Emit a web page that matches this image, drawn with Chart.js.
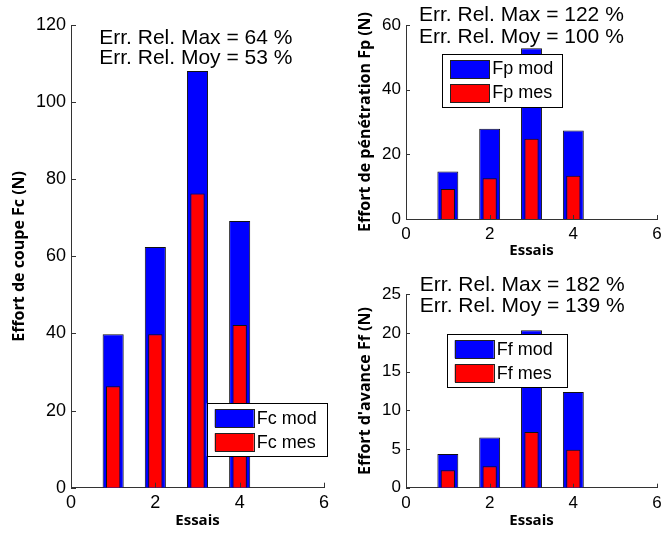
<!DOCTYPE html>
<html>
<head>
<meta charset="utf-8">
<script src="https://cdn.jsdelivr.net/npm/chart.js@4.4.1/dist/chart.umd.min.js"></script>
<style>
  html, body { margin: 0; padding: 0; background: #fff; }
  #fig { position: relative; width: 661px; height: 533px; overflow: hidden; }
  #fig canvas { position: absolute; }
</style>
</head>
<body>
<div id="fig">
  <canvas id="chart-fc" width="340" height="533" style="left:0;top:0"></canvas>
  <canvas id="chart-fp" width="321" height="260" style="left:340px;top:0"></canvas>
  <canvas id="chart-ff" width="321" height="273" style="left:340px;top:260px"></canvas>
</div>
<script>
// Data
const essais = [1, 2, 3, 4];
const xTicks = [0, 2, 4, 6];

const fcMod = [39.8, 62.4, 108.1, 69.2];
const fcMes = [26.3, 39.8, 76.3, 42.2];
const fcErr = ['Err. Rel. Max = 64 %', 'Err. Rel. Moy = 53 %'];

const fpMod = [14.7, 27.9, 52.8, 27.4];
const fpMes = [9.3, 12.6, 24.8, 13.4];
const fpErr = ['Err. Rel. Max = 122 %', 'Err. Rel. Moy = 100 %'];

const ffMod = [4.36, 6.5, 20.35, 12.37];
const ffMes = [2.25, 2.76, 7.2, 4.9];
const ffErr = ['Err. Rel. Max = 182 %', 'Err. Rel. Moy = 139 %'];

const tickFamily = '"Liberation Sans", Arial, sans-serif';
const titleFamily = '"Open Sans", "DejaVu Sans", sans-serif';
const axisColor = '#333';

// Matlab-like ticks pointing into the plot
const innerTicks = {
    id: 'innerTicks',
    afterDraw(chart, args, opts) {
        const ctx = chart.ctx;
        const { x, y } = chart.scales;
        const len = opts.length || 5;
        ctx.save();
        ctx.strokeStyle = axisColor;
        ctx.lineWidth = 1;
        ctx.beginPath();
        x.ticks.forEach(t => {
            const px = Math.round(x.getPixelForValue(t.value)) + 0.5;
            ctx.moveTo(px, y.bottom);
            ctx.lineTo(px, y.bottom - len);
        });
        y.ticks.forEach(t => {
            const py = Math.round(y.getPixelForValue(t.value)) + 0.5;
            ctx.moveTo(x.left, py);
            ctx.lineTo(x.left + len, py);
        });
        ctx.stroke();
        ctx.restore();
    }
};

// Error text, anchored in data coordinates
const errText = {
    id: 'errText',
    afterDraw(chart, args, opts) {
        if (!opts.lines) return;
        const ctx = chart.ctx;
        const px = chart.scales.x.getPixelForValue(opts.x);
        const py = chart.scales.y.getPixelForValue(opts.y);
        ctx.save();
        ctx.fillStyle = '#000';
        ctx.font = opts.size + 'px ' + tickFamily;
        ctx.textAlign = 'left';
        ctx.textBaseline = 'middle';
        opts.lines.forEach((line, i) => ctx.fillText(line, px, py + i * opts.dy));
        ctx.restore();
    }
};

// Boxed legend placed like the Matlab one
const boxLegend = {
    id: 'boxLegend',
    afterDraw(chart, args, opts) {
        const ctx = chart.ctx;
        const w = 120, h = 53;
        const left = opts.left, top = opts.top;
        ctx.save();
        ctx.fillStyle = '#fff';
        ctx.fillRect(left, top, w, h);
        ctx.strokeStyle = '#000';
        ctx.lineWidth = 1;
        ctx.strokeRect(Math.round(left) + 0.5, Math.round(top) + 0.5, w, h);
        ctx.font = '18px ' + tickFamily;
        ctx.textBaseline = 'middle';
        chart.data.datasets.forEach((ds, i) => {
            const sy = top + 6 + i * 24;
            ctx.fillStyle = ds.backgroundColor;
            ctx.fillRect(left + 8, sy, 39, 18);
            ctx.strokeStyle = '#222';
            ctx.strokeRect(Math.round(left + 8) + 0.5, Math.round(sy) + 0.5, 39, 18);
            ctx.fillStyle = '#000';
            ctx.fillText(ds.label, left + 50, sy + 9.5);
        });
        ctx.restore();
    }
};

function makeChart(canvasId, mod, mes, names, s) {
    const canvas = document.getElementById(canvasId);
    return new Chart(canvas, {
        type: 'bar',
        data: {
            datasets: [
                {
                    label: names[0],
                    data: essais.map((e, i) => ({ x: e, y: mod[i] })),
                    backgroundColor: '#0000ff',
                    borderColor: '#111',
                    borderWidth: 1,
                    barPercentage: 0.5,
                    categoryPercentage: 1,
                    grouped: false,
                    order: 1
                },
                {
                    label: names[1],
                    data: essais.map((e, i) => ({ x: e, y: mes[i] })),
                    backgroundColor: '#ff0000',
                    borderColor: '#111',
                    borderWidth: 1,
                    barPercentage: 0.34,
                    categoryPercentage: 1,
                    grouped: false,
                    order: 0
                }
            ]
        },
        options: {
            responsive: false,
            animation: false,
            layout: { padding: { left: 0, top: s.top, right: s.right, bottom: 0 } },
            scales: {
                x: {
                    type: 'linear',
                    offset: false,
                    min: 0,
                    max: 6,
                    afterBuildTicks: scale => { scale.ticks = xTicks.map(v => ({ value: v })); },
                    afterFit: scale => {
                        scale.height = s.xHeight;
                        scale.paddingLeft = 0;
                        scale.paddingRight = 0;
                    },
                    grid: { display: false, drawTicks: false },
                    border: { display: true, color: axisColor },
                    ticks: { color: '#000', padding: 5, maxRotation: 0, font: { family: tickFamily, size: s.tickSize } },
                    title: {
                        display: true,
                        text: 'Essais',
                        color: '#000',
                        padding: { top: 0, bottom: s.xTitlePad },
                        font: { family: titleFamily, size: 15, weight: 'bold' }
                    }
                },
                y: {
                    min: 0,
                    max: s.yMax,
                    ticks: { stepSize: s.yStep, color: '#000', padding: 5, font: { family: tickFamily, size: s.tickSize } },
                    afterFit: scale => {
                        scale.width = s.yWidth;
                        scale.paddingTop = 0;
                        scale.paddingBottom = 0;
                    },
                    grid: { display: false, drawTicks: false },
                    border: { display: true, color: axisColor },
                    title: {
                        display: true,
                        text: names[2],
                        color: '#000',
                        padding: { top: s.yTitlePad, bottom: 0 },
                        font: { family: titleFamily, size: 16, weight: 'bold' }
                    }
                }
            },
            plugins: {
                legend: { display: false },
                tooltip: { enabled: false },
                innerTicks: { length: s.tickLen },
                errText: { lines: s.err, x: s.textX, y: s.textY, dy: s.dy, size: 21 },
                boxLegend: { left: s.legLeft, top: s.legTop }
            }
        },
        plugins: [innerTicks, errText, boxLegend]
    });
}

makeChart('chart-fc', fcMod, fcMes, ['Fc mod', 'Fc mes', 'Effort de coupe Fc (N)'], {
    top: 25, right: 16, yWidth: 71, xHeight: 45.3, yMax: 120, yStep: 20,
    tickSize: 18, tickLen: 5, xTitlePad: 3, yTitlePad: 10,
    err: fcErr, textX: 0.67, textY: 116.6, dy: 20,
    legLeft: 206.7, legTop: 403.3
});

makeChart('chart-fp', fpMod, fpMes, ['Fp mod', 'Fp mes', 'Effort de pénétration Fp (N)'], {
    top: 25, right: 4, yWidth: 66, xHeight: 41, yMax: 60, yStep: 20,
    tickSize: 17, tickLen: 4, xTitlePad: 0, yTitlePad: 16,
    err: fpErr, textX: 0.31, textY: 63.1, dy: 22,
    legLeft: 102.3, legTop: 54
});

makeChart('chart-ff', ffMod, ffMes, ['Ff mod', 'Ff mes', "Effort d'avance Ff (N)"], {
    top: 34.3, right: 4, yWidth: 66, xHeight: 45.3, yMax: 25, yStep: 5,
    tickSize: 17, tickLen: 4, xTitlePad: 3, yTitlePad: 16,
    err: ffErr, textX: 0.33, textY: 26.2, dy: 21,
    legLeft: 106.7, legTop: 74.3
});
</script>
</body>
</html>
